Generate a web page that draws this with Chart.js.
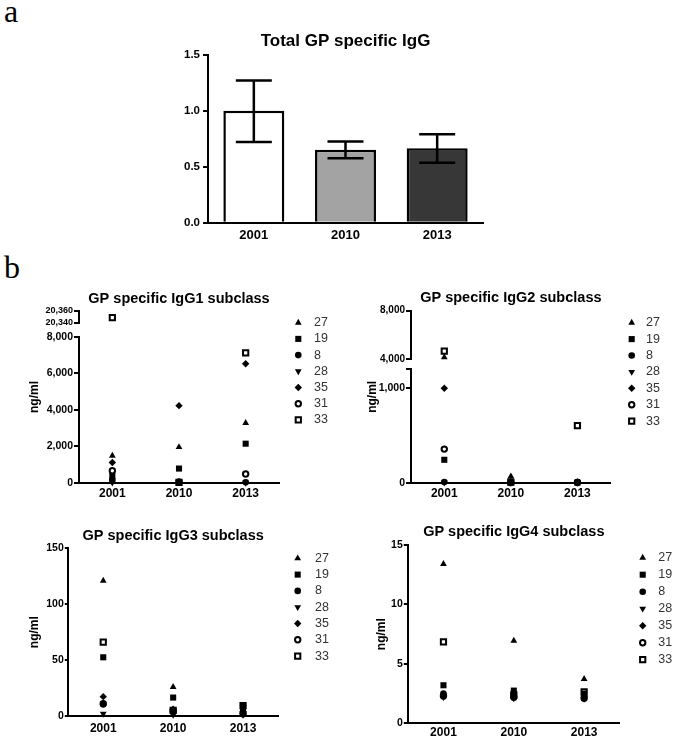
<!DOCTYPE html>
<html>
<head>
<meta charset="utf-8">
<script src="https://cdn.jsdelivr.net/npm/chart.js@4.4.1/dist/chart.umd.min.js"></script>
<style>
  html, body { margin: 0; padding: 0; background: #fff; }
  body { width: 675px; height: 743px; position: relative; overflow: hidden; }
  .letter { position: absolute; font-family: "Liberation Serif", "Times New Roman", serif; font-size: 32px; line-height: 1; color: #000; }
  .panel { position: absolute; }
  .panel canvas { display: block; }
</style>
</head>
<body>
<div class="letter" style="left:4px; top:-5px;">a</div>
<div class="letter" style="left:4px; top:251px;">b</div>

<div class="panel" style="left:150px; top:20px;"><canvas id="totalChart" width="400" height="230"></canvas></div>
<div class="panel" style="left:0px; top:280px;"><canvas id="igg1Chart" width="340" height="230"></canvas></div>
<div class="panel" style="left:340px; top:280px;"><canvas id="igg2Chart" width="335" height="230"></canvas></div>
<div class="panel" style="left:0px; top:515px;"><canvas id="igg3Chart" width="340" height="228"></canvas></div>
<div class="panel" style="left:340px; top:515px;"><canvas id="igg4Chart" width="335" height="228"></canvas></div>

<script>
// ---- data ----
const years = ['2001', '2010', '2013'];

// a: total GP specific IgG, mean with error bars
const totalMean = [1.0, 0.65, 0.665];
const totalErrLow = [0.72, 0.575, 0.535];
const totalErrHigh = [1.27, 0.725, 0.79];
const totalTicks = [0, 0.5, 1.0, 1.5];
const totalTickLabels = ['0.0', '0.5', '1.0', '1.5'];

// b: subclass levels per donor in ng/ml, one row per donor (2001, 2010, 2013)
const donors = ['27', '19', '8', '28', '35', '31', '33'];

const igg1Values = [
    [1490, 1960, 3280],
    [380, 790, 2150],
    [180, 60, 40],
    [20, 50, 10],
    [1120, 4230, 6520],
    [670, 40, 490],
    [20349, 30, 7120]
];
const igg1LowTicks = [0, 2000, 4000, 6000, 8000];
const igg1LowLabels = ['0', '2,000', '4,000', '6,000', '8,000'];
const igg1HighTicks = [20340, 20360];
const igg1HighLabels = ['20,340', '20,360'];

const igg2Values = [
    [4140, 70, 10],
    [245, 15, 5],
    [10, 5, 10],
    [5, 3, 3],
    [1000, 10, 5],
    [358, 5, 5],
    [4660, 10, 606]
];
const igg2LowTicks = [0, 1000, 1200];
const igg2LowLabels = ['0', '1,000', ''];
const igg2HighTicks = [4000, 8000];
const igg2HighLabels = ['4,000', '8,000'];

const igg3Values = [
    [121, 26, 6],
    [52.5, 16.5, 8],
    [10.5, 3.5, 3],
    [2, 1, 1],
    [17.3, 6, 4],
    [11, 4.5, 2],
    [66, 5, 9.2]
];
const igg3Ticks = [0, 50, 100, 150];
const igg3Labels = ['0', '50', '100', '150'];

const igg4Values = [
    [13.4, 6.95, 3.73],
    [3.2, 2.75, 2.5],
    [2.5, 2.3, 2.2],
    [2.2, 2.1, 2.05],
    [2.4, 2.5, 2.3],
    [2.3, 2.2, 2.1],
    [6.85, 2.4, 2.65]
];
const igg4Ticks = [0, 5, 10, 15];
const igg4Labels = ['0', '5', '10', '15'];

const unitLabel = 'ng/ml';

// ---- styles ----
const FONT = '"Liberation Sans", Arial, Helvetica, sans-serif';
Chart.defaults.font.family = FONT;
Chart.defaults.color = '#000';

const donorMarkers = [
    { style: 'triangle', rotation: 0, radius: 3.9, fill: '#000', border: 0 },
    { style: 'rect', rotation: 0, radius: 4.3, fill: '#000', border: 0 },
    { style: 'circle', rotation: 0, radius: 3.3, fill: '#000', border: 0 },
    { style: 'triangle', rotation: 180, radius: 3.9, fill: '#000', border: 0 },
    { style: 'rectRot', rotation: 0, radius: 3.7, fill: '#000', border: 0 },
    { style: 'circle', rotation: 0, radius: 2.7, fill: '#fff', border: 2 },
    { style: 'rect', rotation: 0, radius: 3.7, fill: '#fff', border: 2 }
];
const barColors = ['#ffffff', '#a3a3a3', '#373737'];

function drawMarker(ctx, opts, x, y) {
    if (Chart.helpers && Chart.helpers.drawPoint) {
        Chart.helpers.drawPoint(ctx, opts, x, y);
    } else {
        const el = new Chart.PointElement({});
        el.x = x; el.y = y;
        el.options = Object.assign({ backgroundColor: ctx.fillStyle, borderColor: ctx.strokeStyle }, opts);
        el.draw(ctx);
    }
}

// ---- panel a ----
const errorBars = {
    id: 'errorBars',
    afterDatasetsDraw(chart) {
        const ctx = chart.ctx;
        const y = chart.scales.y;
        const ds = chart.data.datasets[0];
        const meta = chart.getDatasetMeta(0);
        ctx.save();
        ctx.strokeStyle = '#000';
        ctx.lineWidth = 2.5;
        meta.data.forEach((bar, i) => {
            const lo = y.getPixelForValue(ds.errLow[i]);
            const hi = y.getPixelForValue(ds.errHigh[i]);
            const half = 18;
            ctx.beginPath();
            ctx.moveTo(bar.x, lo); ctx.lineTo(bar.x, hi);
            ctx.moveTo(bar.x - half, lo); ctx.lineTo(bar.x + half, lo);
            ctx.moveTo(bar.x - half, hi); ctx.lineTo(bar.x + half, hi);
            ctx.stroke();
        });
        ctx.restore();
    }
};

new Chart(document.getElementById('totalChart'), {
    type: 'bar',
    data: {
        labels: years,
        datasets: [{
            data: totalMean,
            errLow: totalErrLow,
            errHigh: totalErrHigh,
            backgroundColor: barColors,
            borderColor: '#000',
            borderWidth: 2.5,
            barPercentage: 0.665,
            categoryPercentage: 1
        }]
    },
    options: {
        responsive: false,
        animation: false,
        events: [],
        layout: { padding: { left: 18, right: 67, top: 0, bottom: 2.3 } },
        plugins: {
            legend: { display: false },
            tooltip: { enabled: false },
            title: {
                display: true,
                text: 'Total GP specific IgG',
                fullSize: false,
                color: '#000',
                font: { size: 17, weight: 'bold' },
                padding: { top: 10.8, bottom: 3.4 }
            }
        },
        scales: {
            x: {
                grid: { display: false, drawTicks: false },
                border: { display: true, color: '#000', width: 2 },
                ticks: { color: '#000', font: { size: 13, weight: 'bold' }, padding: 5 },
                afterFit: s => { s.height = 25; }
            },
            y: {
                min: totalTicks[0],
                max: totalTicks[totalTicks.length - 1],
                afterBuildTicks: s => { s.ticks = totalTicks.map(v => ({ value: v })); },
                afterFit: s => { s.width = 40; },
                grid: { display: true, drawOnChartArea: false, drawTicks: true, tickLength: 5, color: '#000', lineWidth: 2 },
                border: { display: true, color: '#000', width: 2 },
                ticks: { autoSkip: false, color: '#000', padding: 3, font: { size: 11.5, weight: 'bold' }, callback: (v, i) => totalTickLabels[i] }
            }
        }
    },
    plugins: [errorBars]
});

// ---- panel b ----
function axisSegment(ticks, labels, weight, fontSize, box) {
    return {
        type: 'linear',
        position: 'left',
        stack: 'y',
        stackWeight: weight,
        min: ticks[0],
        max: ticks[ticks.length - 1],
        afterBuildTicks: s => { s.ticks = ticks.map(v => ({ value: v })); },
        afterFit: s => { s.width = box.yWidth; },
        border: { display: true, color: '#000', width: 2 },
        grid: { display: true, drawOnChartArea: false, drawTicks: true, tickLength: box.tickLength, color: '#000', lineWidth: 2 },
        ticks: { autoSkip: false, padding: 1, color: '#000', font: { size: fontSize, weight: 'bold' }, callback: (v, i) => labels[i] }
    };
}

function decorations(box) {
    return {
        id: 'subclassDecor',
        afterDraw(chart) {
            const ctx = chart.ctx;
            const ca = chart.chartArea;
            ctx.save();
            // y axis title, centred on the whole (possibly broken) axis
            ctx.translate(ca.left - box.yTitleDx, (ca.top + ca.bottom) / 2);
            ctx.rotate(-Math.PI / 2);
            ctx.font = 'bold 12px ' + FONT;
            ctx.fillStyle = '#000';
            ctx.textAlign = 'center';
            ctx.textBaseline = 'middle';
            ctx.fillText(unitLabel, 0, 0);
            ctx.restore();

            // legend
            const lg = box.legend;
            const items = chart.data.datasets.filter(d => !d.isUpper);
            ctx.save();
            items.forEach((d, i) => {
                const y = ca.top + lg.dy + i * lg.step;
                ctx.fillStyle = d.pointBackgroundColor;
                ctx.strokeStyle = d.pointBorderColor;
                ctx.lineWidth = d.pointBorderWidth;
                drawMarker(ctx, {
                    pointStyle: d.pointStyle,
                    rotation: d.pointRotation,
                    radius: d.pointRadius,
                    borderWidth: d.pointBorderWidth
                }, ca.right + lg.dx, y);
                ctx.fillStyle = '#333';
                ctx.font = '12.5px ' + FONT;
                ctx.textAlign = 'left';
                ctx.textBaseline = 'middle';
                ctx.fillText(d.label, ca.right + lg.textDx, y);
            });
            ctx.restore();
        }
    };
}

function donorDataset(i, data, axisId, isUpper) {
    const m = donorMarkers[i];
    return {
        label: donors[i],
        data: data,
        yAxisID: axisId,
        isUpper: isUpper,
        showLine: false,
        clip: false,
        pointStyle: m.style,
        pointRotation: m.rotation,
        pointRadius: m.radius,
        pointHoverRadius: m.radius,
        pointBackgroundColor: m.fill,
        pointBorderColor: '#000',
        pointBorderWidth: m.border,
        pointHoverBorderWidth: m.border
    };
}

// segments: bottom segment first; box: layout constants
function subclassChart(id, title, values, segments, box) {
    const scales = {
        x: {
            type: 'category',
            offset: true,
            grid: { display: false, drawTicks: false },
            border: { display: true, color: '#000', width: 2 },
            ticks: { color: '#000', font: { size: 12, weight: 'bold' }, padding: box.xPad },
            afterFit: s => { s.height = box.xHeight; }
        }
    };
    const low = segments[0];
    scales.y = axisSegment(low.ticks, low.labels, box.weights[0], low.fontSize, box);
    const datasets = [];
    const lowMax = low.ticks[low.ticks.length - 1];
    values.forEach((row, i) => {
        datasets.push(donorDataset(i, row.map(v => (segments.length > 1 && v > lowMax) ? null : v), 'y', false));
    });
    if (segments.length > 1) {
        const high = segments[1];
        scales.yGap = { type: 'linear', position: 'left', stack: 'y', stackWeight: box.weights[1], display: false };
        scales.yTop = axisSegment(high.ticks, high.labels, box.weights[2], high.fontSize, box);
        values.forEach((row, i) => {
            if (row.some(v => v > lowMax)) {
                datasets.push(donorDataset(i, row.map(v => v > lowMax ? v : null), 'yTop', true));
            }
        });
    }
    return new Chart(document.getElementById(id), {
        type: 'line',
        data: { labels: years, datasets: datasets },
        options: {
            responsive: false,
            animation: false,
            events: [],
            layout: { padding: box.padding },
            plugins: {
                legend: { display: false },
                tooltip: { enabled: false },
                title: {
                    display: true,
                    text: title,
                    fullSize: false,
                    color: '#000',
                    font: { size: 14.5, weight: 'bold' },
                    padding: { top: box.titleTop, bottom: box.titleBottom }
                }
            },
            scales: scales
        },
        plugins: [decorations(box)]
    });
}

subclassChart('igg1Chart', 'GP specific IgG1 subclass', igg1Values, [
    { ticks: igg1LowTicks, labels: igg1LowLabels, fontSize: 10.5 },
    { ticks: igg1HighTicks, labels: igg1HighLabels, fontSize: 9 }
], {
    padding: { left: 34, right: 61, top: 0, bottom: 3 },
    yWidth: 45, xHeight: 24, xPad: 3.5, tickLength: 5,
    titleTop: 10.3, titleBottom: 3.3,
    weights: [146.3, 13.7, 12],
    yTitleDx: 44,
    legend: { dx: 19.3, textDx: 35, dy: 11.7, step: 16.2 }
});

subclassChart('igg2Chart', 'GP specific IgG2 subclass', igg2Values, [
    { ticks: igg2LowTicks, labels: igg2LowLabels, fontSize: 10.5 },
    { ticks: igg2HighTicks, labels: igg2HighLabels, fontSize: 10 }
], {
    padding: { left: 31, right: 64.3, top: 0, bottom: 3 },
    yWidth: 40, xHeight: 24, xPad: 3.5, tickLength: 5,
    titleTop: 9.3, titleBottom: 4.0,
    weights: [113.7, 10.3, 48.3],
    yTitleDx: 38,
    legend: { dx: 21, textDx: 35.3, dy: 12, step: 16.4 }
});

subclassChart('igg3Chart', 'GP specific IgG3 subclass', igg3Values, [
    { ticks: igg3Ticks, labels: igg3Labels, fontSize: 10.5 }
], {
    padding: { left: 28.3, right: 62, top: 0, bottom: 3 },
    yWidth: 40, xHeight: 24, xPad: 5, tickLength: 3.5,
    titleTop: 12.0, titleBottom: 3.9,
    weights: [1],
    yTitleDx: 33.3,
    legend: { dx: 19.7, textDx: 37, dy: 10, step: 16.3 }
});

subclassChart('igg4Chart', 'GP specific IgG4 subclass', igg4Values, [
    { ticks: igg4Ticks, labels: igg4Labels, fontSize: 10.5 }
], {
    padding: { left: 33.3, right: 55.7, top: 0, bottom: 1.7 },
    yWidth: 35, xHeight: 18, xPad: 2.5, tickLength: 4.5,
    titleTop: 8.6, titleBottom: 4.0,
    weights: [1],
    yTitleDx: 26.6,
    legend: { dx: 23.4, textDx: 39, dy: 12.7, step: 17 }
});
</script>
</body>
</html>
